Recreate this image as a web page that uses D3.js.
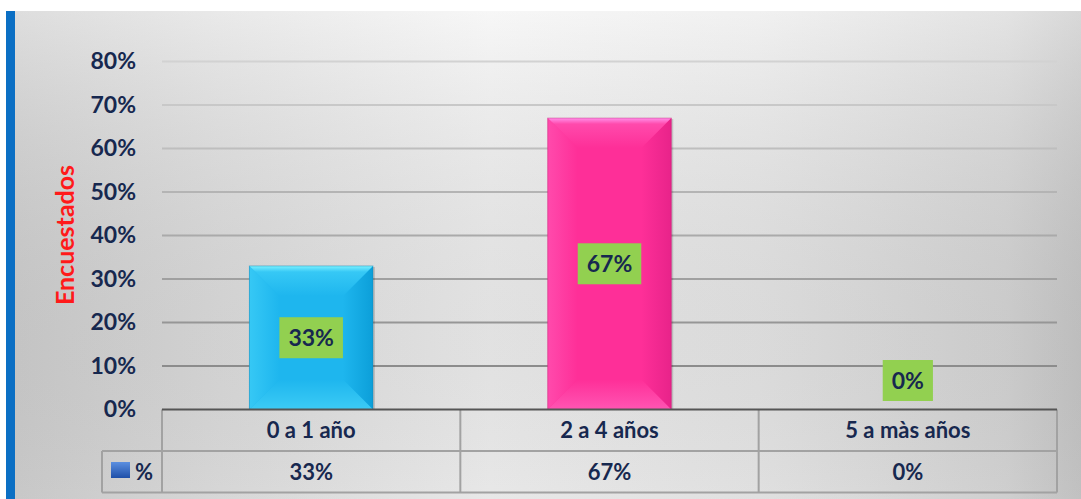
<!DOCTYPE html>
<html>
<head>
<meta charset="utf-8">
<script src="https://cdn.jsdelivr.net/npm/d3@7"></script>
<style>
  html, body { margin: 0; padding: 0; background: #fff; }
  svg { display: block; font-family: Lato, "Open Sans", sans-serif; }
</style>
</head>
<body>
<svg id="chart" width="1081" height="499"></svg>
<script>
const categories = ["0 a 1 año", "2 a 4 años", "5 a màs años"];
const values = [33, 67, 0];
const yTicks = [0, 10, 20, 30, 40, 50, 60, 70, 80];
const seriesName = "%";
const axisTitle = "Encuestados";

const W = 1081, H = 499;
const PLOT = { left: 162, right: 1057, top: 61.5, bottom: 409.5 };
const ROW_H = 41.5;
const NAVY = "#17284f";

const barColors = [
  { base: "#1eb6ee", top: "#7af0ff", left: "#36c8f5", right: "#0c9fd9", bottom: "#3ccbf5" },
  { base: "#fe2f98", top: "#ff90ea", left: "#ff4aac", right: "#e8238a", bottom: "#ff55b3" },
  { base: "#92d050", top: "#b6e67a", left: "#9bd85a", right: "#7fb843", bottom: "#a2dc66" },
];

const svg = d3.select("#chart");
const defs = svg.append("defs");

const bgGrad = defs.append("linearGradient").attr("id", "bg").attr("x1", 0).attr("x2", 1).attr("y1", 0).attr("y2", 0);
[[0, "#d2d2d2"], [0.2, "#e2e2e2"], [0.45, "#f4f4f4"], [0.7, "#ececec"], [0.93, "#dadada"], [1, "#cbcbcb"]]
  .forEach(([o, c]) => bgGrad.append("stop").attr("offset", o).attr("stop-color", c));

const shade = defs.append("linearGradient").attr("id", "shade").attr("x1", 0).attr("x2", 0).attr("y1", 0).attr("y2", 1);
shade.append("stop").attr("offset", 0).attr("stop-color", "#fff").attr("stop-opacity", 0.25);
shade.append("stop").attr("offset", 1).attr("stop-color", "#000").attr("stop-opacity", 0.05);

const icon = defs.append("linearGradient").attr("id", "icon").attr("x1", 0).attr("x2", 0).attr("y1", 0).attr("y2", 1);
icon.append("stop").attr("offset", 0).attr("stop-color", "#5b8fe0");
icon.append("stop").attr("offset", 1).attr("stop-color", "#1e4fa8");

// panel
svg.append("rect").attr("x", 6).attr("y", 11).attr("width", W - 6).attr("height", H - 11).attr("fill", "url(#bg)");
svg.append("rect").attr("x", 6).attr("y", 11).attr("width", W - 6).attr("height", H - 11).attr("fill", "url(#shade)");
svg.append("rect").attr("x", 6).attr("y", 11).attr("width", 9).attr("height", H - 11).attr("fill", "#0b6fc4");

const x = d3.scaleBand().domain(categories).range([PLOT.left, PLOT.right]).padding(0);
const y = d3.scaleLinear().domain([0, 80]).range([PLOT.bottom, PLOT.top]);
const gridColor = d3.scaleLinear().domain([10, 80]).range(["#8c8c8c", "#d2d2d2"]);

// gridlines
svg.append("g")
  .selectAll("line")
  .data(yTicks.filter((d) => d > 0))
  .join("line")
  .attr("x1", PLOT.left)
  .attr("x2", PLOT.right)
  .attr("y1", (d) => y(d))
  .attr("y2", (d) => y(d))
  .attr("stroke", (d) => gridColor(d))
  .attr("stroke-width", 2);

// y tick labels
const yAxis = d3.axisLeft(y).tickValues(yTicks).tickFormat((d) => d + "%").tickSize(0).tickPadding(0);
const yg = svg.append("g").attr("transform", `translate(136,0)`).call(yAxis);
yg.select(".domain").remove();
yg.selectAll("text")
  .attr("fill", NAVY)
  .attr("font-size", 23)
  .attr("font-weight", "bold")
  .attr("font-family", "Lato, sans-serif");

svg.append("text")
  .attr("transform", "translate(74,235) rotate(-90)")
  .attr("text-anchor", "middle")
  .attr("fill", "#ff1a1a")
  .attr("font-size", 25)
  .attr("font-weight", "bold")
  .text(axisTitle);

// bars with soft bevel
const barW = x.bandwidth() * 0.414;
const bars = svg.append("g");
const grad = (id, dir, c0, c1) => {
  const g = defs.append("linearGradient").attr("id", id)
    .attr("x1", dir === "l" ? 0 : dir === "r" ? 1 : 0).attr("x2", dir === "l" ? 1 : dir === "r" ? 0 : 0)
    .attr("y1", dir === "t" ? 0 : dir === "b" ? 1 : 0).attr("y2", dir === "t" ? 1 : dir === "b" ? 0 : 0);
  g.append("stop").attr("offset", 0).attr("stop-color", c0);
  g.append("stop").attr("offset", 1).attr("stop-color", c1);
};
const poly = (pts) => "M" + pts.map((p) => p.join(",")).join("L") + "Z";

categories.forEach((c, i) => {
  const v = values[i];
  if (v <= 0) return;
  const col = barColors[i];
  const x0 = x(c) + (x.bandwidth() - barW) / 2, x1 = x0 + barW;
  const y0 = y(v), y1 = y(0);
  const b = Math.min(30, (y1 - y0) / 2, barW / 2);
  grad("gl" + i, "l", col.left, col.base);
  grad("gr" + i, "r", col.right, col.base);
  grad("gb" + i, "b", col.bottom, col.base);
  const tg = defs.append("linearGradient").attr("id", "gt" + i).attr("x1", 0).attr("x2", 0).attr("y1", 0).attr("y2", 1);
  tg.append("stop").attr("offset", 0).attr("stop-color", col.top);
  tg.append("stop").attr("offset", 0.2).attr("stop-color", col.left);
  tg.append("stop").attr("offset", 1).attr("stop-color", col.base);

  const g = bars.append("g");
  g.append("rect").attr("x", x0 + 2).attr("y", y0 + 1).attr("width", barW).attr("height", y1 - y0 - 1).attr("fill", "#000").attr("opacity", 0.15);
  g.append("rect").attr("x", x0).attr("y", y0).attr("width", barW).attr("height", y1 - y0).attr("fill", col.base);
  g.append("path").attr("d", poly([[x0, y0], [x0 + b, y0 + b], [x0 + b, y1 - b], [x0, y1]])).attr("fill", `url(#gl${i})`);
  g.append("path").attr("d", poly([[x1, y0], [x1 - b, y0 + b], [x1 - b, y1 - b], [x1, y1]])).attr("fill", `url(#gr${i})`);
  g.append("path").attr("d", poly([[x0, y1], [x0 + b, y1 - b], [x1 - b, y1 - b], [x1, y1]])).attr("fill", `url(#gb${i})`);
  g.append("path").attr("d", poly([[x0, y0], [x1, y0], [x1 - b, y0 + b], [x0 + b, y0 + b]])).attr("fill", `url(#gt${i})`);
  g.append("rect").attr("x", x0).attr("y", y0).attr("width", barW).attr("height", y1 - y0)
    .attr("fill", "none").attr("stroke", d3.color(col.right).darker(0.6)).attr("stroke-opacity", 0.4).attr("stroke-width", 1);
});

// data labels
const labels = svg.append("g");
categories.forEach((c, i) => {
  const v = values[i];
  const cx = x(c) + x.bandwidth() / 2;
  const cy = v > 0 ? y(v / 2) : y(0) - 29;
  const t = labels.append("text")
    .attr("x", cx).attr("y", cy).attr("dy", "0.36em")
    .attr("text-anchor", "middle")
    .attr("fill", NAVY).attr("font-size", 23).attr("font-weight", "bold")
    .text(v + "%");
  const bb = t.node().getBBox();
  labels.insert("rect", "text")
    .attr("x", cx - bb.width / 2 - 9).attr("y", cy - 20.5)
    .attr("width", bb.width + 18).attr("height", 41)
    .attr("fill", "#92d050");
});

// data table
const table = svg.append("g");
const lineCol = "#a2a2a2";
const r0 = PLOT.bottom, r1 = r0 + ROW_H, r2 = r1 + ROW_H;
table.append("line").attr("x1", PLOT.left).attr("x2", PLOT.right).attr("y1", r1).attr("y2", r1).attr("stroke", lineCol).attr("stroke-width", 2);
table.append("line").attr("x1", 102).attr("x2", PLOT.right).attr("y1", r2).attr("y2", r2).attr("stroke", lineCol).attr("stroke-width", 2);
table.append("line").attr("x1", 102).attr("x2", PLOT.left).attr("y1", r1).attr("y2", r1).attr("stroke", lineCol).attr("stroke-width", 2);
table.append("line").attr("x1", 102).attr("x2", 102).attr("y1", r1).attr("y2", r2).attr("stroke", lineCol).attr("stroke-width", 2);
table.selectAll(".vline")
  .data(categories.map((c) => x(c)).concat([PLOT.right]))
  .join("line")
  .attr("x1", (d) => d).attr("x2", (d) => d)
  .attr("y1", r0).attr("y2", r2)
  .attr("stroke", lineCol).attr("stroke-width", 2);
table.append("line").attr("x1", PLOT.left).attr("x2", PLOT.right).attr("y1", r0).attr("y2", r0).attr("stroke", "#555").attr("stroke-width", 2);

table.selectAll(".cat")
  .data(categories)
  .join("text")
  .attr("x", (d) => x(d) + x.bandwidth() / 2)
  .attr("y", (r0 + r1) / 2).attr("dy", "0.36em")
  .attr("text-anchor", "middle")
  .attr("fill", NAVY).attr("font-size", 22).attr("font-weight", "bold")
  .text((d) => d);

table.selectAll(".val")
  .data(categories)
  .join("text")
  .attr("x", (d) => x(d) + x.bandwidth() / 2)
  .attr("y", (r1 + r2) / 2).attr("dy", "0.36em")
  .attr("text-anchor", "middle")
  .attr("fill", NAVY).attr("font-size", 22).attr("font-weight", "bold")
  .text((d, i) => values[i] + "%");

table.append("rect").attr("x", 111).attr("y", 462).attr("width", 19).attr("height", 16).attr("fill", "url(#icon)");
table.append("text").attr("x", 135).attr("y", (r1 + r2) / 2).attr("dy", "0.36em")
  .attr("fill", NAVY).attr("font-size", 22).attr("font-weight", "bold").text(seriesName);
</script>
</body>
</html>
